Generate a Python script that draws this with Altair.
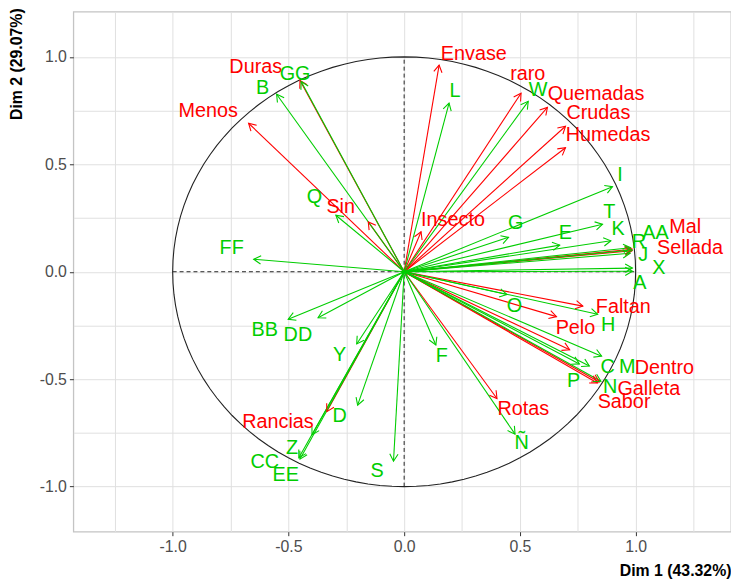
import math
import numpy as np
import pandas as pd
import altair as alt

# ---- data (PCA variable coordinates) ----
red_names = ["Duras", "Menos", "Sin", "Envase", "Insecto", "raro", "Quemadas", "Crudas",
             "Humedas", "Mal", "Sellada", "Faltan", "Pelo", "Dentro", "Galleta", "Sabor",
             "Rotas", "Rancias"]
red_x = [-0.450, -0.672, -0.155, 0.151, 0.073, 0.505, 0.619, 0.697,
         0.697, 0.985, 0.985, 0.772, 0.658, 0.715, 0.843, 0.835,
         0.401, -0.334]
red_y = [0.890, 0.691, 0.232, 0.962, 0.186, 0.831, 0.765, 0.677,
         0.577, 0.105, 0.098, -0.160, -0.209, -0.363, -0.513, -0.518,
         -0.590, -0.651]
red_lx = [-0.641, -0.847, -0.274, 0.301, 0.211, 0.534, 0.829, 0.839,
          0.881, 1.214, 1.235, 0.947, 0.740, 1.124, 1.057, 0.950,
          0.515, -0.545]
red_ly = [0.954, 0.747, 0.301, 1.015, 0.240, 0.918, 0.826, 0.739,
          0.636, 0.209, 0.112, -0.164, -0.260, -0.449, -0.547, -0.608,
          -0.639, -0.700]

green_names = ["B", "GG", "Q", "FF", "L", "W", "G", "I", "T", "K", "E", "R", "AA", "J",
               "X", "A", "O", "H", "C", "M", "P", "N", "F", "Ñ", "BB", "DD", "Y", "D",
               "Z", "CC", "EE", "S"]
green_x = [-0.551, -0.445, -0.295, -0.650, 0.194, 0.536, 0.451, 0.900, 0.857, 0.893,
           0.672, 0.985, 0.978, 0.976, 0.986, 0.986, 0.444, 0.836, 0.853, 0.800,
           0.757, 0.850, 0.137, 0.479, -0.501, -0.372, -0.205, -0.201, -0.398, -0.455,
           -0.450, -0.046]
green_y = [0.826, 0.885, 0.263, 0.058, 0.785, 0.793, 0.160, 0.396, 0.221, 0.144,
           0.124, 0.101, 0.112, 0.086, 0.017, 0.002, -0.106, -0.198, -0.393, -0.439,
           -0.429, -0.510, -0.341, -0.756, -0.221, -0.214, -0.336, -0.621, -0.759, -0.866,
           -0.872, -0.882]
green_lx = [-0.611, -0.471, -0.388, -0.745, 0.220, 0.579, 0.482, 0.933, 0.886, 0.924,
            0.696, 1.014, 1.086, 1.033, 1.100, 1.018, 0.476, 0.881, 0.879, 0.964,
            0.732, 0.890, 0.163, 0.508, -0.602, -0.459, -0.279, -0.279, -0.484, -0.602,
            -0.512, -0.117]
green_ly = [0.857, 0.918, 0.347, 0.109, 0.839, 0.847, 0.227, 0.452, 0.278, 0.197,
            0.178, 0.140, 0.178, 0.078, 0.017, -0.052, -0.160, -0.249, -0.444, -0.444,
            -0.510, -0.536, -0.393, -0.797, -0.270, -0.295, -0.387, -0.674, -0.820, -0.885,
            -0.946, -0.928]

x_title = "Dim 1 (43.32%)"
y_title = "Dim 2 (29.07%)"

X_MIN, X_MAX = -1.429, 1.412
Y_MIN, Y_MAX = -1.21, 1.21
W, H = 664, 525
RED, GREEN = "#FF0000", "#00CD00"
FONT = "Liberation Sans"

sx = W / (X_MAX - X_MIN)
sy = H / (Y_MAX - Y_MIN)

rows = []
for grp, names, xs, ys, lxs, lys in [("red", red_names, red_x, red_y, red_lx, red_ly),
                                     ("green", green_names, green_x, green_y, green_lx, green_ly)]:
    for n, x, y, lx, ly in zip(names, xs, ys, lxs, lys):
        ang = math.degrees(math.atan2(x * sx, y * sy)) % 360
        rows.append(dict(name=n, group=grp, x0=0.0, y0=0.0, x=x, y=y, lx=lx, ly=ly, angle=ang))
df = pd.DataFrame(rows)

t = np.linspace(0, 2 * np.pi, 121)
circle_df = pd.DataFrame({"cx": np.cos(t), "cy": np.sin(t), "i": np.arange(len(t))})
dash_df = pd.DataFrame({"x": [-1.0, 0.0], "x2": [1.0, 0.0], "y": [0.0, -1.0], "y2": [0.0, 1.0]})

major_test = "abs(datum.value*2 - round(datum.value*2)) < 0.001"
label_expr = f"{major_test} ? replace(format(datum.value, '.1f'), '\u2212', '-') : ''"
tick_vals = [-1.25, -1.0, -0.75, -0.5, -0.25, 0.0, 0.25, 0.5, 0.75, 1.0, 1.25]


def make_axis(title, **extra):
    return alt.Axis(values=tick_vals, grid=True, gridColor="#E0E0E0", gridWidth=1,
                    domain=False, ticks=True, tickSize=4, tickColor="#333333",
                    tickOpacity={"condition": {"test": major_test, "value": 1}, "value": 0},
                    labelExpr=label_expr, labelFont=FONT, labelFontSize=16,
                    labelColor="#4D4D4D", labelPadding=3,
                    title=title, titleAnchor="end", titleFont=FONT, titleFontSize=16,
                    titleFontWeight="bold", titleColor="#000000", **extra)


xsc = alt.Scale(domain=[X_MIN, X_MAX], nice=False, zero=False)
ysc = alt.Scale(domain=[Y_MIN, Y_MAX], nice=False, zero=False)
xax = make_axis(x_title, titlePadding=8)
yax = make_axis(y_title, titlePadding=15, titleY=-4)
color = alt.Color("group:N", scale=alt.Scale(domain=["red", "green"], range=[RED, GREEN]), legend=None)

circle = alt.Chart(circle_df).mark_line(color="#222222", strokeWidth=1.1).encode(
    x=alt.X("cx:Q", scale=xsc, axis=xax),
    y=alt.Y("cy:Q", scale=ysc, axis=yax),
    order="i:Q",
)

dashed = alt.Chart(dash_df).mark_rule(color="#222222", strokeWidth=1, strokeDash=[4, 3]).encode(
    x=alt.X("x:Q", scale=xsc, axis=xax), x2="x2:Q",
    y=alt.Y("y:Q", scale=ysc, axis=yax), y2="y2:Q",
)

arrows = alt.Chart(df).mark_rule(strokeWidth=1.1).encode(
    x=alt.X("x0:Q", scale=xsc, axis=xax), x2="x:Q",
    y=alt.Y("y0:Q", scale=ysc, axis=yax), y2="y:Q",
    color=color,
)

heads = alt.Chart(df).mark_point(shape="M -0.577 1 L 0 0 L 0.577 1", filled=False,
                                 strokeWidth=1.1, size=210, opacity=1).encode(
    x=alt.X("x:Q", scale=xsc, axis=xax),
    y=alt.Y("y:Q", scale=ysc, axis=yax),
    angle=alt.Angle("angle:Q", scale=None),
    color=color,
)

labels = alt.Chart(df).mark_text(font=FONT, fontSize=20, align="center", baseline="middle").encode(
    x=alt.X("lx:Q", scale=xsc, axis=xax),
    y=alt.Y("ly:Q", scale=ysc, axis=yax),
    text="name:N",
    color=color,
)

chart = alt.layer(circle, dashed, arrows, heads, labels).properties(
    width=W, height=H,
    autosize=alt.AutoSizeParams(type="none"),
    padding={"left": 66, "top": 1, "right": 0, "bottom": 50},
).configure_view(stroke="#C4C4C4", strokeWidth=1.3)

chart.save("out.html", embed_options={"renderer": "svg", "actions": False})
